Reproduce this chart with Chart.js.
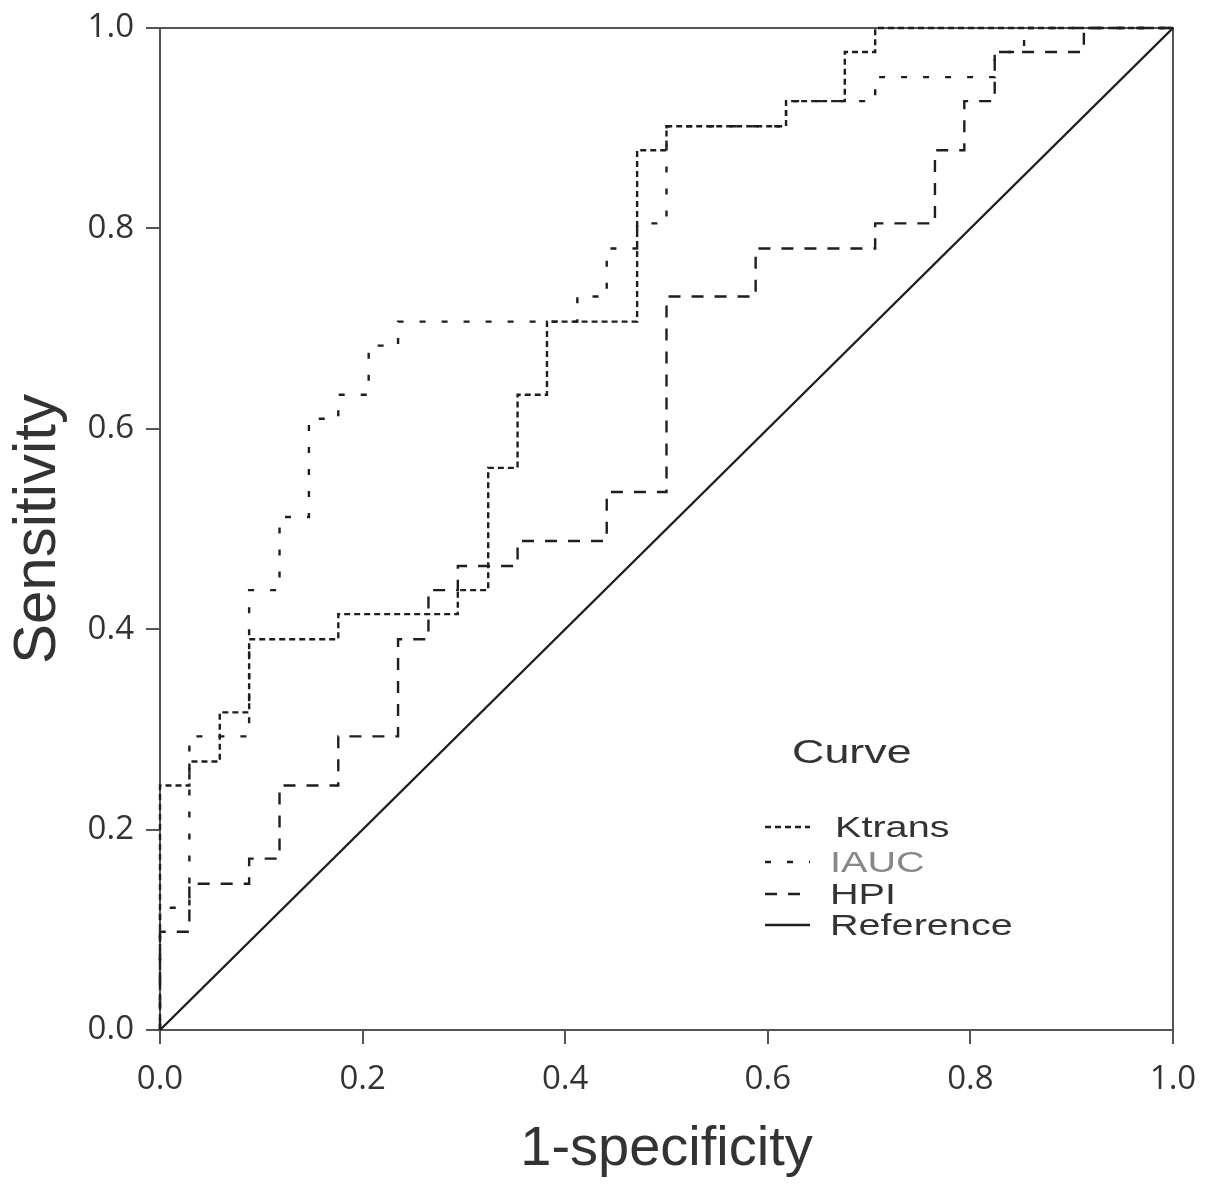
<!DOCTYPE html>
<html>
<head>
<meta charset="utf-8">
<script src="https://cdn.jsdelivr.net/npm/chart.js@4.4.0/dist/chart.umd.min.js"></script>
<style>
  html, body { margin: 0; padding: 0; background: #fff; }
  #wrap { width: 1205px; height: 1195px; position: relative; }
</style>
</head>
<body>
<div id="wrap"><canvas id="roc"></canvas></div>
<script>
// ROC curves (step corners: x where the flat part ends, y of that step)
const tickValues = [0, 0.2, 0.4, 0.6, 0.8, 1.0];

const ktransX = [0, 0.029, 0.059, 0.088, 0.176, 0.294, 0.324, 0.353, 0.382, 0.471, 0.500, 0.618, 0.676, 0.706, 1.0];
const ktransY = [0, 0.244, 0.268, 0.317, 0.390, 0.415, 0.439, 0.561, 0.634, 0.707, 0.878, 0.902, 0.927, 0.976, 1.0];

const iaucX = [0, 0.029, 0.088, 0.118, 0.147, 0.176, 0.206, 0.235, 0.412, 0.441, 0.471, 0.500, 0.618, 0.706, 0.824, 0.853, 1.0];
const iaucY = [0, 0.122, 0.293, 0.439, 0.512, 0.610, 0.634, 0.683, 0.707, 0.732, 0.780, 0.805, 0.902, 0.927, 0.951, 0.976, 1.0];

const hpiX = [0, 0.029, 0.088, 0.118, 0.176, 0.235, 0.265, 0.294, 0.353, 0.441, 0.500, 0.588, 0.706, 0.765, 0.794, 0.824, 0.912, 1.0];
const hpiY = [0, 0.098, 0.146, 0.171, 0.244, 0.293, 0.390, 0.439, 0.463, 0.488, 0.537, 0.732, 0.780, 0.805, 0.878, 0.927, 0.976, 1.0];

const refX = [0, 1];
const refY = [0, 1];

const lineColor = '#1e1e1e';
const axisColor = '#555';

function pts(xs, ys) {
  return xs.map((x, i) => ({ x: x, y: ys[i] }));
}

// frame on top and right side of the plot
const framePlugin = {
  id: 'frame',
  beforeDatasetsDraw(chart) {
    const { ctx, chartArea: a } = chart;
    ctx.save();
    ctx.strokeStyle = axisColor;
    ctx.lineWidth = 2;
    ctx.beginPath();
    ctx.moveTo(a.left, a.top);
    ctx.lineTo(a.right, a.top);
    ctx.lineTo(a.right, a.bottom);
    ctx.stroke();
    ctx.restore();
  }
};

// legend drawn inside the plot, like the original
const curveLegend = {
  id: 'curveLegend',
  afterDraw(chart) {
    const ctx = chart.ctx;
    const rows = [
      { y: 827, text: 'Ktrans', color: '#333', tx: 835 },
      { y: 862, text: 'IAUC', color: '#888', tx: 830 },
      { y: 894, text: 'HPI', color: '#333', tx: 830 },
      { y: 925, text: 'Reference', color: '#333', tx: 830 }
    ];
    ctx.save();
    ctx.fillStyle = '#333';
    ctx.font = '33px "Liberation Sans", Arial, sans-serif';
    ctx.textBaseline = 'alphabetic';
    ctx.translate(792, 763);
    ctx.scale(1.36, 1);
    ctx.fillText('Curve', 0, 0);
    ctx.restore();

    rows.forEach((r, i) => {
      const ds = chart.data.datasets[i];
      ctx.save();
      ctx.strokeStyle = lineColor;
      ctx.lineWidth = 2.4;
      ctx.setLineDash(ds.borderDash || []);
      ctx.beginPath();
      ctx.moveTo(765, r.y);
      ctx.lineTo(810, r.y);
      ctx.stroke();
      ctx.restore();

      ctx.save();
      ctx.fillStyle = r.color;
      ctx.font = '30px "Liberation Sans", Arial, sans-serif';
      ctx.textBaseline = 'middle';
      ctx.translate(r.tx, r.y + 2);
      ctx.scale(1.32, 1);
      ctx.fillText(r.text, 0, 0);
      ctx.restore();
    });
  }
};

const ctx = document.getElementById('roc').getContext('2d');
new Chart(ctx, {
  type: 'line',
  data: {
    datasets: [
      {
        label: 'Ktrans',
        data: pts(ktransX, ktransY),
        stepped: 'after',
        borderColor: lineColor,
        borderWidth: 2.4,
        borderDash: [6, 4],
        pointRadius: 0,
        fill: false,
        clip: false
      },
      {
        label: 'IAUC',
        data: pts(iaucX, iaucY),
        stepped: 'after',
        borderColor: lineColor,
        borderWidth: 2.4,
        borderDash: [6, 16],
        pointRadius: 0,
        fill: false,
        clip: false
      },
      {
        label: 'HPI',
        data: pts(hpiX, hpiY),
        stepped: 'after',
        borderColor: lineColor,
        borderWidth: 2.4,
        borderDash: [12, 11],
        pointRadius: 0,
        fill: false,
        clip: false
      },
      {
        label: 'Reference',
        data: pts(refX, refY),
        borderColor: lineColor,
        borderWidth: 2.4,
        pointRadius: 0,
        fill: false,
        clip: false
      }
    ]
  },
  options: {
    responsive: true,
    maintainAspectRatio: false,
    animation: false,
    layout: { padding: { top: 28, right: 32, left: 0, bottom: 0 } },
    plugins: {
      legend: { display: false },
      tooltip: { enabled: false }
    },
    scales: {
      x: {
        type: 'linear',
        min: 0,
        max: 1,
        afterBuildTicks: s => { s.ticks = tickValues.map(v => ({ value: v })); },
        afterFit: s => { s.height = 165; s.paddingLeft = 0; s.paddingRight = 0; },
        ticks: {
          callback: v => v.toFixed(1),
          font: { family: '"Open Sans", sans-serif', size: 33 },
          color: '#333',
          padding: 16,
          maxRotation: 0
        },
        grid: { drawOnChartArea: false, drawTicks: true, tickLength: 14, color: axisColor, lineWidth: 2 },
        border: { display: true, color: axisColor, width: 2 },
        title: {
          display: true,
          text: '1-specificity',
          font: { family: '"Liberation Sans", Arial, sans-serif', size: 56 },
          color: '#333',
          padding: { top: 0, bottom: 12 }
        }
      },
      y: {
        type: 'linear',
        min: 0,
        max: 1,
        afterBuildTicks: s => { s.ticks = tickValues.map(v => ({ value: v })); },
        afterFit: s => { s.width = 160; s.paddingTop = 0; s.paddingBottom = 0; },
        ticks: {
          callback: v => v.toFixed(1),
          font: { family: '"Open Sans", sans-serif', size: 33 },
          color: '#333',
          padding: 12
        },
        grid: { drawOnChartArea: false, drawTicks: true, tickLength: 14, color: axisColor, lineWidth: 2 },
        border: { display: true, color: axisColor, width: 2 },
        title: {
          display: true,
          text: 'Sensitivity',
          font: { family: '"Liberation Sans", Arial, sans-serif', size: 60 },
          color: '#333',
          padding: { top: 2, bottom: 0 }
        }
      }
    }
  },
  plugins: [framePlugin, curveLegend]
});
</script>
</body>
</html>
